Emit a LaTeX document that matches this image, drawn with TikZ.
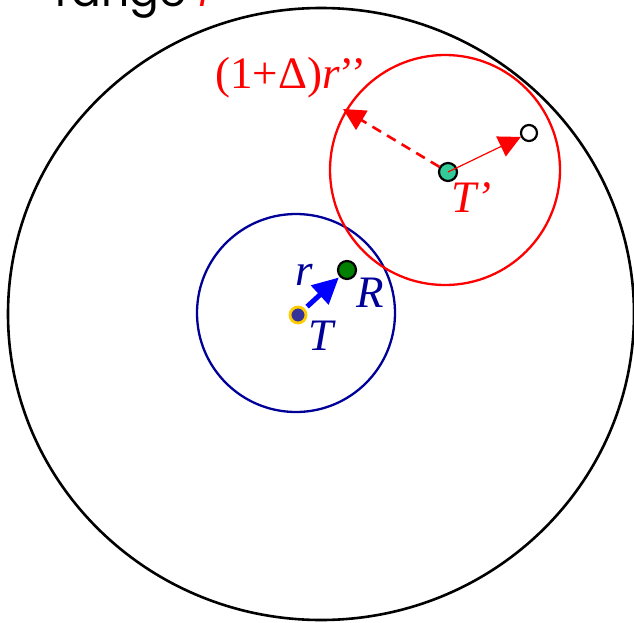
\documentclass[tikz,border=0pt]{standalone}
\usepackage{fontspec}
\setmainfont{Liberation Serif}
\newfontfamily\rangefont{Poppins}
\usetikzlibrary{arrows.meta}
\definecolor{navyc}{HTML}{000099}
\definecolor{redc}{HTML}{FF0000}
\definecolor{tdot}{HTML}{333399}
\definecolor{tring}{HTML}{FFCC00}
\definecolor{rdot}{HTML}{008000}
\definecolor{tpdot}{HTML}{33CC99}
\tikzset{
  dot/.style={circle, inner sep=0pt, minimum size=14pt, line width=2.2pt, draw=black},
  biglabel/.style={font=\fontsize{45}{50}\selectfont\itshape, inner sep=0pt},
}
\begin{document}
\begin{tikzpicture}[x={(1pt,0)}, y={(0,-1pt)}]
\useasboundingbox (0,0) rectangle (634,623);
\clip (0,0) rectangle (634,623);
% range label
\node[anchor=base west, inner sep=0pt, font=\fontsize{44}{50}\selectfont] (rng) at (55,7) {\rangefont range {\color{redc}\fontspec{Liberation Serif}\itshape r}};
% outer ellipse
\draw[line width=2.6pt] (321,314) ellipse [x radius=313, y radius=306];
% blue circle
\draw[navyc, line width=2.3pt] (296,313) circle [radius=99];
% red circle
\draw[redc, line width=2.3pt] (445,170) circle [radius=115];
% dots
\node[dot, fill=tdot, draw=tring, line width=2.8pt, minimum size=16pt] (T) at (298,315) {};
\node[dot, fill=rdot, minimum size=18pt] (R) at (347,270) {};
\node[dot, fill=tpdot, minimum size=18pt] (Tp) at (448,172) {};
\node[dot, fill=white, minimum size=16pt] (O) at (529,133) {};
\coordinate (E) at (343,109);
% arrows
\draw[blue, line width=5pt, -{Triangle[length=26pt,width=25pt]}, shorten <=3pt, shorten >=1pt] (T) -- (R);
\draw[redc, line width=1.2pt, -{Triangle[length=22pt,width=22pt]}] (Tp.center) -- (O);
\draw[redc, line width=2.6pt, dash pattern=on 10pt off 7pt, -{Triangle[length=22pt,width=22pt]}] (Tp) -- (E);
% labels
\node[biglabel, text=navyc] (lr) at (304,275) {r};
\node[biglabel, text=navyc] (lR) at (370,293) {R};
\node[biglabel, text=navyc] (lT) at (321,336) {T};
\node[biglabel, text=redc] (lTp) at (471,198) {T’};
\node[biglabel, text=redc, font=\fontsize{45}{50}\selectfont] (lD) at (291,78) {(1+Δ)\textit{r}’’};
\end{tikzpicture}
\end{document}
